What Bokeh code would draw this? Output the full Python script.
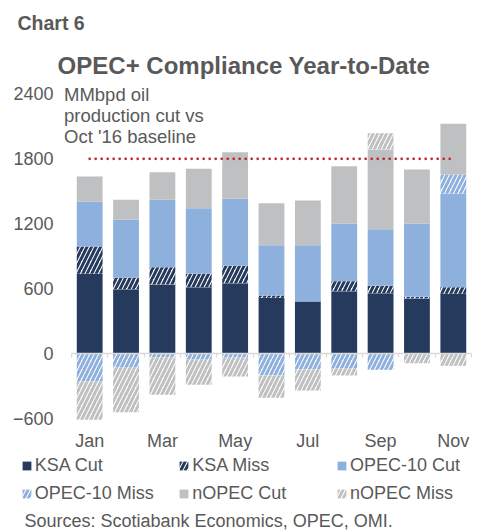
import numpy as np
from bokeh.plotting import figure
from bokeh.models import (ColumnDataSource, Range1d, FixedTicker, LinearAxis,
                          Label, Legend, LegendItem)
from bokeh.embed import file_html
from bokeh.resources import INLINE

# ---------------- data ----------------
months = ["Jan", "Feb", "Mar", "Apr", "May", "Jun", "Jul", "Aug", "Sep", "Oct", "Nov"]
ksa_cut = [738, 596, 639, 614, 651, 516, 482, 577, 559, 510, 553]
ksa_miss = [252, 105, 160, 124, 161, 21, 0, 93, 68, 15, 61]
opec10_cut = [413, 536, 622, 606, 619, 465, 520, 530, 523, 675, 863]
opec10_miss = [-254, -130, -32, -56, -38, -201, -146, -134, -149, 0, 178]
nopec_cut = [233, 184, 255, 364, 430, 388, 413, 532, 736, 501, 468]
nopec_miss = [-356, -410, -348, -231, -173, -206, -194, -67, 150, -88, -112]
target = 1800
y_ticks = [-600, 0, 600, 1200, 1800, 2400]
series_names = ["KSA Cut", "KSA Miss", "OPEC-10 Cut", "OPEC-10 Miss", "nOPEC Cut", "nOPEC Miss"]
series_values = [ksa_cut, ksa_miss, opec10_cut, opec10_miss, nopec_cut, nopec_miss]
annotation_lines = ["MMbpd oil", "production cut vs", "Oct '16 baseline"]

# ---------------- styles / layout ----------------
NAVY = "#263A5E"
LBLUE = "#8EB0DC"
GREY = "#BFC0C2"
TXT = "#595959"
FONT = "Liberation Sans"
HATCH = dict(hatch_pattern="/", hatch_scale=9, hatch_weight=3)
styles = [
    dict(fill_color=NAVY),
    dict(fill_color="white", hatch_color=NAVY, **HATCH),
    dict(fill_color=LBLUE),
    dict(fill_color="white", hatch_color=LBLUE, **HATCH),
    dict(fill_color=GREY),
    dict(fill_color="white", hatch_color=GREY, **HATCH),
]

W, H = 482, 532
PLOT_L, PLOT_R = 71.0, 471.0      # pixel extent of the category area
Y0_PX, Y_SCALE = 353.2, 0.10828   # pixel of value 0, pixels per unit

n = len(months)
idx = np.arange(n)
cat_px = (PLOT_R - PLOT_L) / n
x_start = -0.5 - PLOT_L / cat_px
x_end = (n - 0.5) + (W - PLOT_R) / cat_px
y_end = Y0_PX / Y_SCALE
y_start = -(H - Y0_PX) / Y_SCALE

p = figure(width=W, height=H, output_backend="svg", toolbar_location=None,
           x_range=Range1d(x_start, x_end), y_range=Range1d(y_start, y_end),
           x_axis_type=None, y_axis_type=None,
           min_border_left=0, min_border_right=0, min_border_top=0, min_border_bottom=0)
p.outline_line_color = None
p.background_fill_color = "white"
p.border_fill_color = "white"

# stacked bars (positive and negative stacks separately)
pos = np.zeros(n)
neg = np.zeros(n)
renderers = []
for name, vals, st in zip(series_names, series_values, styles):
    v = np.array(vals, dtype=float)
    bottom = np.where(v >= 0, pos, neg)
    top = bottom + v
    pos = np.where(v >= 0, pos + v, pos)
    neg = np.where(v < 0, neg + v, neg)
    src = ColumnDataSource(dict(x=idx, top=top, bottom=bottom))
    r = p.vbar(x="x", top="top", bottom="bottom", width=0.71, source=src,
               line_color=None, **st)
    renderers.append(r)

# target dotted line
p.line(x=[int(idx[0]), int(idx[-1])], y=[target, target], line_color="#C0282D",
       line_width=2.8, line_dash="0 6", line_cap="round")

# axes (placed at fixed data locations inside the canvas)
ya = LinearAxis(fixed_location=-0.5, ticker=FixedTicker(ticks=y_ticks),
                axis_line_color=None, major_tick_line_color=None,
                minor_tick_line_color=None, major_tick_out=0, major_tick_in=0,
                major_label_standoff=18, major_label_text_font=FONT,
                major_label_text_font_size="18px", major_label_text_color=TXT)
p.add_layout(ya, "left")

xa = LinearAxis(fixed_location=y_ticks[0], ticker=FixedTicker(ticks=[int(i) for i in idx[::2]]),
                major_label_overrides={int(i): months[i] for i in idx[::2]},
                axis_line_color=None, major_tick_line_color=None,
                minor_tick_line_color=None, major_tick_out=0, major_tick_in=0,
                major_label_standoff=12, major_label_text_font=FONT,
                major_label_text_font_size="18px", major_label_text_color=TXT)
p.add_layout(xa, "below")

bounds = [float(i) - 0.5 for i in range(n + 1)]
zero_axis = LinearAxis(fixed_location=0, ticker=FixedTicker(ticks=bounds),
                       bounds=(bounds[0], bounds[-1]),
                       axis_line_color="#D9D9D9", axis_line_width=1.6,
                       major_tick_line_color="#D9D9D9", major_tick_line_width=1.2,
                       major_tick_in=0, major_tick_out=4,
                       minor_tick_line_color=None,
                       major_label_overrides={b: "" for b in bounds},
                       major_label_text_font_size="0px", major_label_standoff=0)
p.add_layout(zero_axis, "below")

# page pixel -> screen units (origin bottom-left of canvas)
def sx(px):
    return px
def sy(py):
    return H - py

def add_label(text, px, py, size, bold=False, font=FONT, align="left"):
    p.add_layout(Label(x=sx(px), y=sy(py), x_units="screen", y_units="screen",
                       text=text, text_font=font, text_font_size=size,
                       text_font_style="bold" if bold else "normal",
                       text_color=TXT, text_align=align, text_baseline="middle"))

add_label("Chart 6", 17, 22.7, "19.5px", bold=True)
add_label("OPEC+ Compliance Year-to-Date", 243.5, 65, "24px", bold=True, align="center")
for line, py in zip(annotation_lines, [94, 115, 136]):
    add_label(line, 63.5, py, "18.5px")
add_label("Sources: Scotiabank Economics, OPEC, OMI.", 24, 520, "18px")

# legends: three columns of two rows
cols = [(0, 3, 20.7), (1, 4, 178.3), (2, 5, 336.0)]
for a, b, px in cols:
    leg = Legend(items=[LegendItem(label=series_names[a], renderers=[renderers[a]]),
                        LegendItem(label=series_names[b], renderers=[renderers[b]])],
                 location=(sx(px), sy(503.5)), orientation="vertical",
                 padding=0, margin=0, spacing=7, border_line_color=None,
                 background_fill_alpha=0, glyph_width=11, glyph_height=11,
                 label_standoff=3, label_text_font=FONT, label_text_font_size="18px",
                 label_text_color=TXT, label_text_baseline="middle", label_height=21)
    p.add_layout(leg, "center")

open("out.html", "w").write(file_html(p, INLINE))
